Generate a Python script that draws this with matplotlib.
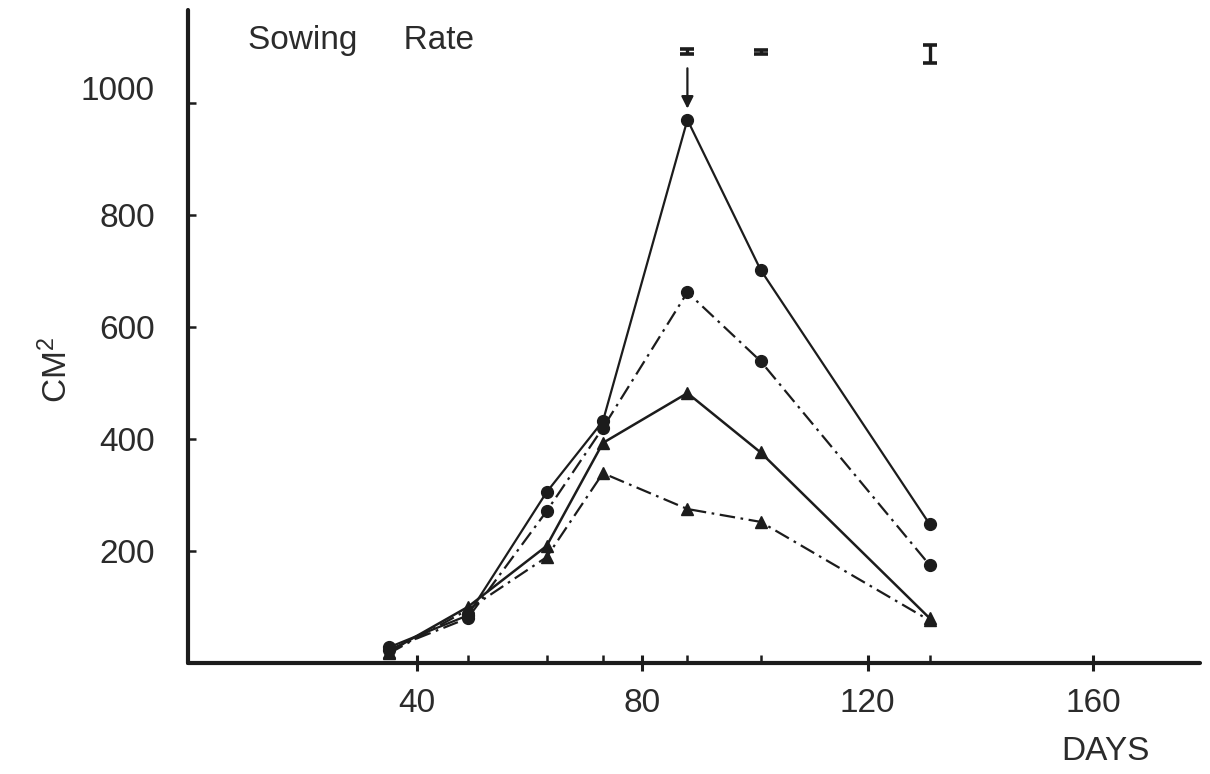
import matplotlib
matplotlib.use("Agg")
import matplotlib.pyplot as plt
from matplotlib.transforms import ScaledTranslation

plt.rcParams["font.family"] = ["Liberation Sans", "DejaVu Sans"]
plt.rcParams["mathtext.default"] = "regular"

# sampling days and leaf area (cm^2) for the four sowing rates
days = [35, 49, 63, 73, 88, 101, 131]
rate_a = [28, 85, 305, 432, 970, 702, 248]    # solid, circles
rate_b = [24, 80, 271, 420, 662, 539, 175]    # dash-dot, circles
rate_c = [20, 100, 209, 393, 482, 376, 80]    # solid, triangles
rate_d = [17, 95, 189, 339, 275, 252, 76]     # dash-dot, triangles

# LSD bars drawn above the curves
lsd_days = [88, 101, 131]
lsd_y = [1092, 1091, 1088]
lsd_half = [4, 4, 16]

y_ticks = [200, 400, 600, 800, 1000]
x_ticks = [40, 80, 120, 160]

INK = "#1c1c1c"
TEXT = "#2b2b2b"
DASHDOT = (0, (7, 2.5, 1.2, 2.5))

fig = plt.figure(figsize=(12.1, 7.74), dpi=100)
ax = fig.add_axes([0.1554, 0.1434, 0.8363, 0.8436])

ax.plot(days, rate_a, color=INK, lw=1.6, marker="o", ms=8.5)
ax.plot(days, rate_b, color=INK, lw=1.6, ls=DASHDOT, marker="o", ms=8.5)
ax.plot(days, rate_c, color=INK, lw=1.8, marker="^", ms=9)
ax.plot(days, rate_d, color=INK, lw=1.6, ls=DASHDOT, marker="^", ms=9)

ax.errorbar(lsd_days, lsd_y, yerr=lsd_half, fmt="none", ecolor=INK,
            elinewidth=2.4, capsize=5, capthick=2.6)

# arrow marking the peak
ax.annotate("", xy=(88, 990), xytext=(88, 1062),
            arrowprops=dict(arrowstyle="-|>", color=INK, lw=1.6,
                            mutation_scale=18, shrinkA=0, shrinkB=0))

ax.set_xlim(-0.66, 179)
ax.set_ylim(0, 1166)

for side in ("top", "right"):
    ax.spines[side].set_visible(False)
for side in ("left", "bottom"):
    ax.spines[side].set_linewidth(3)
    ax.spines[side].set_color(INK)
    ax.spines[side].set_capstyle("round")

ax.set_xticks(x_ticks)
ax.set_xticks(days[1:], minor=True)
ax.set_yticks(y_ticks)
ax.tick_params(axis="x", which="major", direction="inout", length=12,
               width=2.2, color=INK, pad=12, labelsize=24, labelcolor=TEXT)
ax.tick_params(axis="x", which="minor", direction="in", length=6,
               width=1.8, color=INK)
ax.tick_params(axis="y", which="major", direction="in", length=6,
               width=1.8, color=INK, pad=24, labelsize=24, labelcolor=TEXT)

# the 1000 label sits a little higher than its tick
for lab in ax.get_yticklabels():
    if lab.get_text() == "1000":
        lab.set_transform(lab.get_transform()
                          + ScaledTranslation(0, 0.15, fig.dpi_scale_trans))

fig.text(248 / 1210, 1 - 40 / 774, "Sowing     Rate", fontsize=24,
         color=TEXT, ha="left", va="center")
fig.text(57 / 1210, 1 - 370 / 774, r"CM$^{2}$", fontsize=24, color=TEXT,
         rotation=90, ha="center", va="center")
fig.text(1105 / 1210, 1 - 752 / 774, "DAYS", fontsize=24, color=TEXT,
         ha="center", va="center")

fig.savefig("out.png", dpi=100)
